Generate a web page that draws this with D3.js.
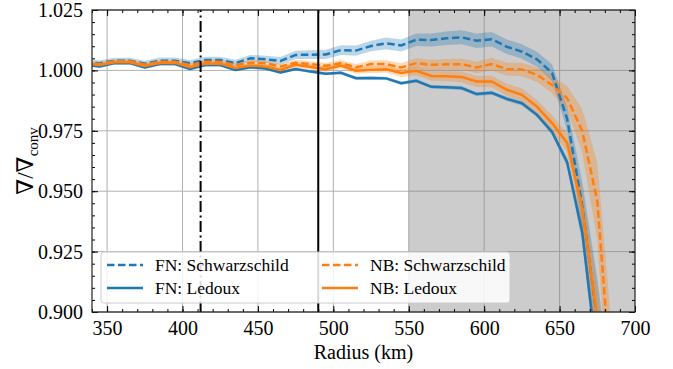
<!DOCTYPE html>
<html>
<head>
<meta charset="utf-8">
<script src="https://cdn.jsdelivr.net/npm/d3@7"></script>
<style>
  body { margin: 0; background: #fff; }
  svg text { font-family: "Times New Roman", "Liberation Serif", "DejaVu Serif", serif !important; fill: #000; }
</style>
</head>
<body>
<div id="chart"></div>
<script>
// chart size and plot box
var width = 673,
    height = 369,
    margin = { top: 10, right: 38, bottom: 57, left: 92 };

// radius points (km)
var radius = [335, 345, 355, 365, 375, 385, 395, 405, 415, 425, 435, 445, 455, 465, 475, 485, 495,
              505, 515, 525, 535, 545, 555, 565, 575, 585, 595, 605, 615, 625, 635, 645, 655, 665, 675, 685];

// FN: Ledoux (solid blue)
var fnLedoux = [1.0024, 1.0016, 1.0030, 1.0030, 1.0012, 1.0026, 1.0026, 1.0006, 1.0022, 1.0022, 1.0002, 1.0013,
                1.0008, 0.9991, 1.0006, 0.9995, 0.9986, 0.9990, 0.9968, 0.9969, 0.9967, 0.9947, 0.9957, 0.9932,
                0.9930, 0.9927, 0.9902, 0.9907, 0.9882, 0.9864, 0.9816, 0.9745, 0.9620, 0.9330, 0.8800, 0.8200];
var fnLedouxErr = [0.0006, 0.0006, 0.0006, 0.0006, 0.0006, 0.0006, 0.0006, 0.0006, 0.0006, 0.0006, 0.0006, 0.0006,
                   0.0006, 0.0006, 0.0006, 0.0006, 0.0006, 0.0006, 0.0007, 0.0007, 0.0007, 0.0007, 0.0007, 0.0007,
                   0.0008, 0.0008, 0.0008, 0.0008, 0.0009, 0.0009, 0.0010, 0.0012, 0.0020, 0.0040, 0.0060, 0.0080];

// FN: Schwarzschild (dashed blue)
var fnSchw = [1.0034, 1.0030, 1.0040, 1.0040, 1.0028, 1.0040, 1.0040, 1.0030, 1.0043, 1.0043, 1.0030, 1.0050,
              1.0046, 1.0039, 1.0064, 1.0065, 1.0066, 1.0084, 1.0082, 1.0101, 1.0112, 1.0103, 1.0127, 1.0126,
              1.0133, 1.0137, 1.0123, 1.0129, 1.0098, 1.0078, 1.0046, 0.9990, 0.9800, 0.9440, 0.8960, 0.8400];
var fnSchwErr = [0.0012, 0.0012, 0.0012, 0.0012, 0.0012, 0.0013, 0.0013, 0.0013, 0.0013, 0.0014, 0.0014, 0.0014,
                 0.0015, 0.0016, 0.0017, 0.0018, 0.0019, 0.0020, 0.0021, 0.0022, 0.0024, 0.0025, 0.0026, 0.0027,
                 0.0028, 0.0029, 0.0030, 0.0030, 0.0030, 0.0030, 0.0031, 0.0035, 0.0050, 0.0100, 0.0180, 0.0250];

// NB: Ledoux (solid orange)
var nbLedoux = [1.0030, 1.0022, 1.0034, 1.0034, 1.0018, 1.0031, 1.0031, 1.0013, 1.0028, 1.0028, 1.0010, 1.0020,
                1.0016, 1.0002, 1.0023, 1.0014, 1.0005, 1.0020, 0.9999, 1.0003, 1.0005, 0.9989, 0.9998, 0.9977,
                0.9976, 0.9973, 0.9954, 0.9954, 0.9920, 0.9899, 0.9850, 0.9782, 0.9700, 0.9430, 0.8970, 0.8400];
var nbLedouxErr = [0.0008, 0.0008, 0.0008, 0.0008, 0.0008, 0.0008, 0.0008, 0.0008, 0.0009, 0.0009, 0.0009, 0.0010,
                   0.0010, 0.0010, 0.0011, 0.0011, 0.0012, 0.0012, 0.0013, 0.0014, 0.0015, 0.0016, 0.0018, 0.0020,
                   0.0021, 0.0022, 0.0023, 0.0024, 0.0025, 0.0026, 0.0028, 0.0032, 0.0040, 0.0080, 0.0140, 0.0200];

// NB: Schwarzschild (dashed orange)
var nbSchw = [1.0032, 1.0026, 1.0038, 1.0038, 1.0024, 1.0036, 1.0036, 1.0022, 1.0036, 1.0036, 1.0022, 1.0032,
              1.0030, 1.0016, 1.0032, 1.0026, 1.0019, 1.0030, 1.0013, 1.0026, 1.0026, 1.0012, 1.0030, 1.0023,
              1.0025, 1.0026, 1.0012, 1.0026, 1.0005, 1.0004, 0.9982, 0.9940, 0.9885, 0.9750, 0.9460, 0.8650];
var nbSchwErr = [0.0008, 0.0008, 0.0008, 0.0008, 0.0008, 0.0008, 0.0008, 0.0008, 0.0009, 0.0009, 0.0009, 0.0010,
                 0.0010, 0.0011, 0.0011, 0.0012, 0.0012, 0.0013, 0.0014, 0.0015, 0.0016, 0.0018, 0.0020, 0.0021,
                 0.0022, 0.0023, 0.0024, 0.0026, 0.0027, 0.0028, 0.0030, 0.0035, 0.0050, 0.0090, 0.0160, 0.0250];

// markers and shaded zone
var dashDotR = 412,
    solidR = 490,
    shadeStart = 550,
    shadeEnd = 700;

// tick values
var xTicks = [350, 400, 450, 500, 550, 600, 650, 700];
var yTicks = [0.900, 0.925, 0.950, 0.975, 1.000, 1.025];

var blue = "#1f77b4", orange = "#ff7f0e";

var series = [
  { name: "FN: Schwarzschild", v: fnSchw, e: fnSchwErr, color: blue, dash: "7.5,3.5" },
  { name: "FN: Ledoux", v: fnLedoux, e: fnLedouxErr, color: blue, dash: null },
  { name: "NB: Schwarzschild", v: nbSchw, e: nbSchwErr, color: orange, dash: "7.5,3.5" },
  { name: "NB: Ledoux", v: nbLedoux, e: nbLedouxErr, color: orange, dash: null }
];

var x = d3.scaleLinear().domain([340, 700]).range([margin.left, width - margin.right]);
var y = d3.scaleLinear().domain([0.9, 1.025]).range([height - margin.bottom, margin.top]);
var x0 = x.range()[0], x1 = x.range()[1], y0 = y.range()[0], y1 = y.range()[1];

var svg = d3.select("#chart").append("svg")
    .attr("width", width)
    .attr("height", height);

svg.append("clipPath").attr("id", "clip")
  .append("rect")
    .attr("x", x0).attr("y", y1)
    .attr("width", x1 - x0).attr("height", y0 - y1);

// grid
svg.append("g").selectAll("line.gx")
  .data(xTicks.filter(function(d) { return d < 700; }))
  .enter().append("line")
    .attr("x1", function(d) { return x(d); }).attr("x2", function(d) { return x(d); })
    .attr("y1", y0).attr("y2", y1)
    .attr("stroke", "#b0b0b0").attr("stroke-width", 1);
svg.append("g").selectAll("line.gy")
  .data(yTicks)
  .enter().append("line")
    .attr("x1", x0).attr("x2", x1)
    .attr("y1", function(d) { return y(d); }).attr("y2", function(d) { return y(d); })
    .attr("stroke", "#b0b0b0").attr("stroke-width", 1);

// shaded region
svg.append("rect")
    .attr("x", x(shadeStart)).attr("y", y1)
    .attr("width", x(shadeEnd) - x(shadeStart)).attr("height", y0 - y1)
    .attr("fill", "#808080").attr("fill-opacity", 0.4);

var plot = svg.append("g").attr("clip-path", "url(#clip)");

var idx = d3.range(radius.length);

var area = function(s) {
  return d3.area()
    .x(function(i) { return x(radius[i]); })
    .y0(function(i) { return y(s.v[i] - s.e[i]); })
    .y1(function(i) { return y(s.v[i] + s.e[i]); });
};
var line = function(s) {
  return d3.line()
    .x(function(i) { return x(radius[i]); })
    .y(function(i) { return y(s.v[i]); });
};

series.forEach(function(s) {
  plot.append("path")
      .attr("d", area(s)(idx))
      .attr("fill", s.color)
      .attr("fill-opacity", 0.3);
});
series.forEach(function(s) {
  plot.append("path")
      .attr("d", line(s)(idx))
      .attr("fill", "none")
      .attr("stroke", s.color)
      .attr("stroke-width", 2.5)
      .attr("stroke-dasharray", s.dash);
});

// vertical markers
svg.append("line")
    .attr("x1", x(dashDotR)).attr("x2", x(dashDotR))
    .attr("y1", y0).attr("y2", y1)
    .attr("stroke", "#000").attr("stroke-width", 2)
    .attr("stroke-dasharray", "11,3.5,2,3.5");
svg.append("line")
    .attr("x1", x(solidR)).attr("x2", x(solidR))
    .attr("y1", y0).attr("y2", y1)
    .attr("stroke", "#000").attr("stroke-width", 2);

// axes with inward ticks on all sides
var xMinor = d3.range(340, 701, 10);
var yMinor = d3.range(0, 26).map(function(i) { return 0.9 + i * 0.005; });

function addAxis(axis, tr, major, minor, labels) {
  var g = svg.append("g").attr("transform", tr);
  g.call(axis.tickValues(minor).tickSize(-3).tickFormat(""));
  g.select(".domain").remove();
  var gm = svg.append("g").attr("transform", tr);
  gm.call(axis.tickValues(major).tickSize(-6).tickPadding(9).tickFormat(labels));
  gm.select(".domain").remove();
  gm.attr("font-family", null);
  gm.selectAll(".tick line").attr("stroke", "#000");
  g.selectAll(".tick line").attr("stroke", "#000");
  gm.selectAll("text").style("font-size", "20px");
  return gm;
}

var fmtY = function(d) { return d.toFixed(3); };
addAxis(d3.axisBottom(x), "translate(0," + y0 + ")", xTicks, xMinor, d3.format("d"));
addAxis(d3.axisTop(x), "translate(0," + y1 + ")", xTicks, xMinor, function() { return ""; });
addAxis(d3.axisLeft(y), "translate(" + x0 + ",0)", yTicks, yMinor, fmtY);
addAxis(d3.axisRight(y), "translate(" + x1 + ",0)", yTicks, yMinor, function() { return ""; });

// frame
svg.append("rect")
    .attr("x", x0).attr("y", y1)
    .attr("width", x1 - x0).attr("height", y0 - y1)
    .attr("fill", "none").attr("stroke", "#222").attr("stroke-width", 1.2);

// axis labels
svg.append("text")
    .attr("x", (x0 + x1) / 2).attr("y", 359)
    .attr("text-anchor", "middle")
    .style("font-size", "20px")
    .text("Radius (km)");

var yl = svg.append("text")
    .attr("transform", "translate(33," + ((y0 + y1) / 2) + ") rotate(-90)")
    .attr("text-anchor", "middle")
    .style("font-size", "23px");
yl.append("tspan").text("\u2207/\u2207");
yl.append("tspan").attr("dy", 5).style("font-size", "15px").text("conv");

// legend
var lg = svg.append("g");
lg.append("rect")
    .attr("x", 101).attr("y", 252).attr("width", 409).attr("height", 51)
    .attr("rx", 3)
    .attr("fill", "#fff").attr("fill-opacity", 0.85)
    .attr("stroke", "#cccccc").attr("stroke-width", 1);

var legPos = [[107, 265], [107, 288], [322, 265], [322, 288]];
series.forEach(function(s, i) {
  var p = legPos[i];
  lg.append("line")
      .attr("x1", p[0]).attr("x2", p[0] + 36)
      .attr("y1", p[1]).attr("y2", p[1])
      .attr("stroke", s.color).attr("stroke-width", 2.5)
      .attr("stroke-dasharray", s.dash);
  lg.append("text")
      .attr("x", p[0] + 48).attr("y", p[1] + 6)
      .style("font-size", "17.5px")
      .text(s.name);
});
</script>
</body>
</html>
